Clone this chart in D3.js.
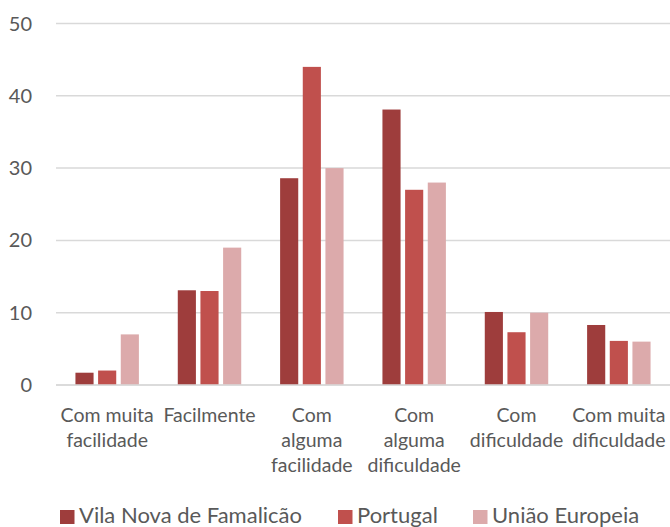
<!DOCTYPE html>
<html>
<head>
<meta charset="utf-8">
<style>
  body { margin: 0; background: #fff; }
  text { font-family: Lato, "Open Sans", sans-serif; fill: #595959; }
</style>
<title>Vila Nova de Famalicão</title>
</head>
<body>
<script src="https://cdn.jsdelivr.net/npm/d3@7"></script>
<script>
  // data
  var categories = ["Com muita facilidade", "Facilmente", "Com alguma facilidade",
                    "Com alguma dificuldade", "Com dificuldade", "Com muita dificuldade"];
  var categoryLines = [["Com muita", "facilidade"], ["Facilmente"], ["Com", "alguma", "facilidade"],
                       ["Com", "alguma", "dificuldade"], ["Com", "dificuldade"], ["Com muita", "dificuldade"]];
  var series = ["Vila Nova de Famalicão", "Portugal", "União Europeia"];
  var famalicao = [1.7, 13.1, 28.6, 38.1, 10.1, 8.3];
  var portugal = [2.0, 13.0, 44.0, 27.0, 7.3, 6.1];
  var ue = [7.0, 19.0, 30.0, 28.0, 10.0, 6.0];
  var yTicks = [0, 10, 20, 30, 40, 50];
  var colors = ["#9e3d3c", "#c0504d", "#dcaaab"];

  var w = 670, h = 527;
  var margin = {top: 23.5, right: 0, bottom: 142, left: 56};

  var svg = d3.select("body").append("svg")
      .attr("width", w).attr("height", h);

  var x0 = d3.scaleBand().domain(categories)
      .range([margin.left, w - margin.right])
      .paddingInner(0.38).paddingOuter(0.19);
  var x1 = d3.scaleBand().domain(series)
      .range([0, x0.bandwidth()]).paddingInner(0.2);
  var y = d3.scaleLinear().domain([0, 50]).range([h - margin.bottom, margin.top]);

  // gridlines
  svg.append("g").selectAll("line").data(yTicks).enter().append("line")
      .attr("x1", margin.left).attr("x2", w - margin.right)
      .attr("y1", function(d) { return y(d); }).attr("y2", function(d) { return y(d); })
      .attr("stroke", "#d9d9d9").attr("stroke-width", 1.5);

  // y tick labels
  svg.append("g").selectAll("text").data(yTicks).enter().append("text")
      .attr("x", 32).attr("y", function(d) { return y(d); })
      .attr("dy", "0.35em").attr("text-anchor", "end")
      .style("font-size", "20px")
      .text(function(d) { return d; });

  // bars
  var values = [famalicao, portugal, ue];
  var groups = svg.append("g").selectAll("g").data(categories).enter().append("g")
      .attr("transform", function(d) { return "translate(" + x0(d) + ",0)"; });
  groups.selectAll("rect")
      .data(function(d, i) { return series.map(function(s, j) { return {s: s, v: values[j][i], j: j}; }); })
      .enter().append("rect")
      .attr("x", function(d) { return x1(d.s); })
      .attr("width", x1.bandwidth())
      .attr("y", function(d) { return y(d.v); })
      .attr("height", function(d) { return y(0) - y(d.v); })
      .attr("fill", function(d) { return colors[d.j]; });

  // baseline again on top
  svg.append("line")
      .attr("x1", margin.left).attr("x2", w - margin.right)
      .attr("y1", y(0)).attr("y2", y(0))
      .attr("stroke", "#d9d9d9").attr("stroke-width", 1.5);

  // category labels
  var labels = svg.append("g").selectAll("text").data(categories).enter().append("text")
      .attr("text-anchor", "middle")
      .style("font-size", "19.5px")
      .attr("transform", function(d) { return "translate(" + (x0(d) + x0.bandwidth() / 2) + ",421.5)"; });
  labels.selectAll("tspan")
      .data(function(d, i) { return categoryLines[i]; })
      .enter().append("tspan")
      .attr("x", 0).attr("dy", function(d, i) { return i === 0 ? 0 : 25.3; })
      .text(function(d) { return d; });

  // legend
  var legendX = [60, 338, 473];
  var legend = svg.append("g").selectAll("g").data(series).enter().append("g")
      .attr("transform", function(d, i) { return "translate(" + legendX[i] + ",510)"; });
  legend.append("rect").attr("width", 14.5).attr("height", 14)
      .attr("fill", function(d, i) { return colors[i]; });
  legend.append("text").attr("x", 19).attr("y", 12.5)
      .style("font-size", "22px")
      .text(function(d) { return d; });
</script>
</body>
</html>
